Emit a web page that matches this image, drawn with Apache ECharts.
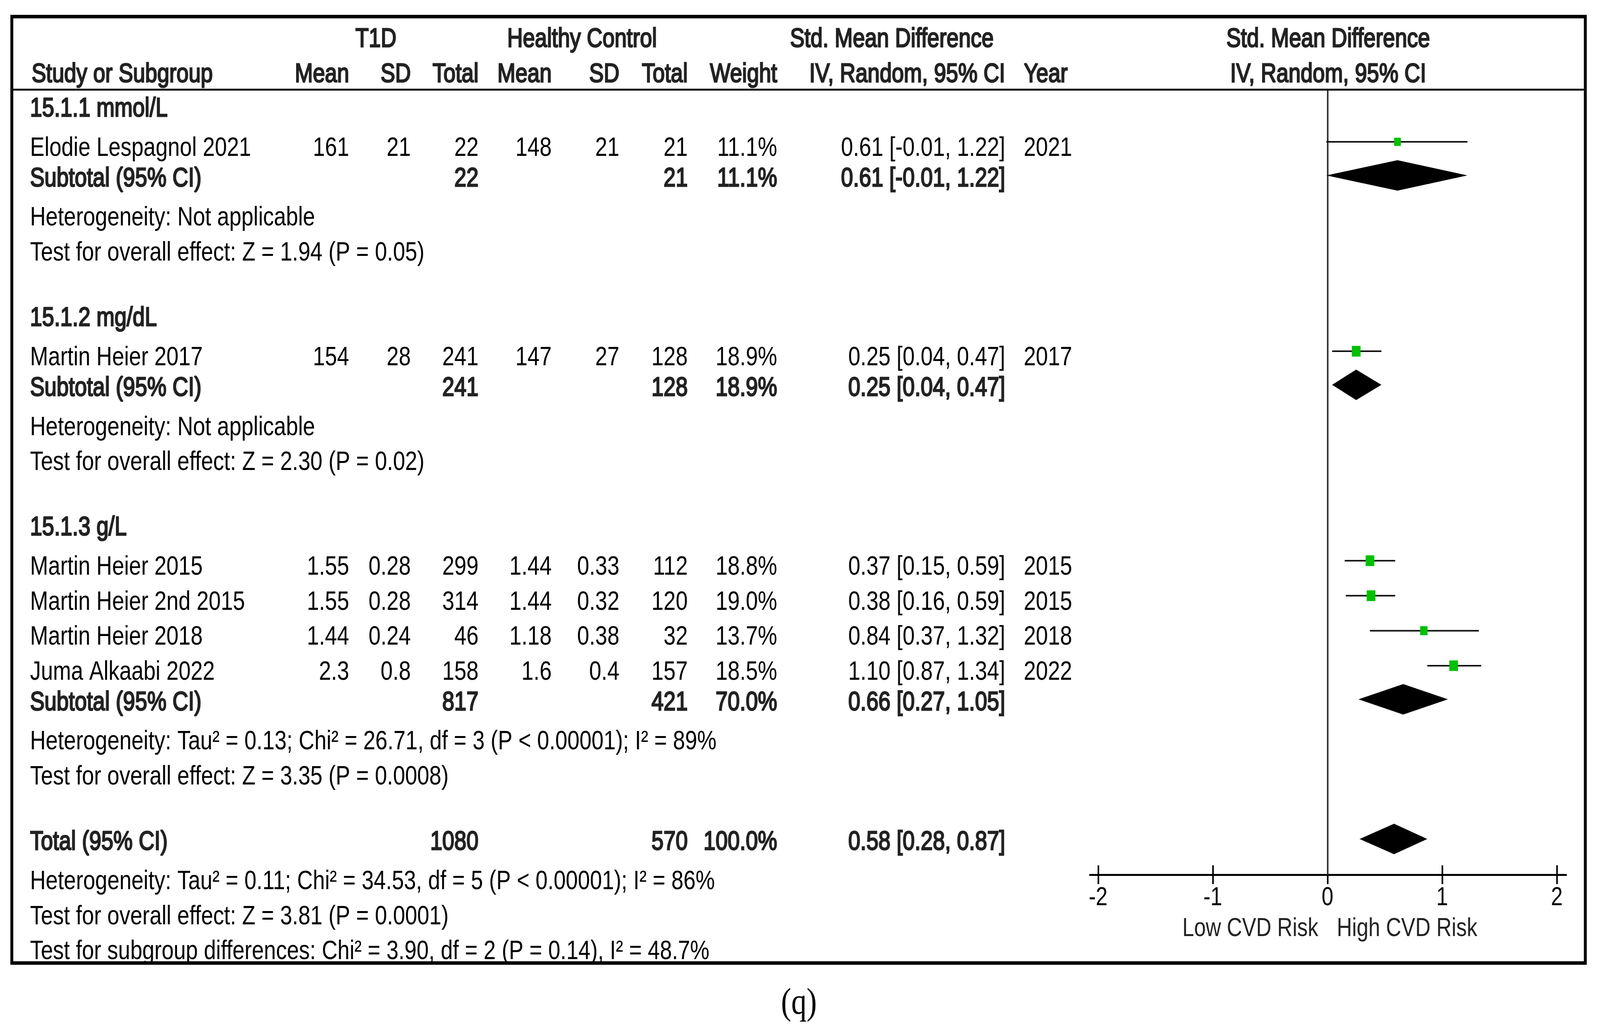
<!DOCTYPE html>
<html>
<head>
<meta charset="utf-8">
<script src="https://cdn.jsdelivr.net/npm/echarts@6/dist/echarts.min.js"></script>
<style>
html,body{margin:0;padding:0;background:#fff;overflow:hidden;width:100%;height:100%;}
#c{position:absolute;left:0;top:0;width:5009px;height:2639px;transform-origin:0 0;}
</style>
</head>
<body>
<div id="c"></div>
<script>
// ---------------- DATA ----------------
const spanHeaders   = ['T1D', 'Healthy Control', 'Std. Mean Difference', 'Std. Mean Difference'];
const columnHeaders = ['Study or Subgroup', 'Mean', 'SD', 'Total', 'Mean', 'SD', 'Total', 'Weight', 'IV, Random, 95% CI', 'Year', 'IV, Random, 95% CI'];

const groupLabels   = ['15.1.1 mmol/L', '15.1.2 mg/dL', '15.1.3 g/L'];
const groupT1dTotal = [22, 241, 817];
const groupHcTotal  = [21, 128, 421];
const groupWeight   = [11.1, 18.9, 70.0];
const groupSMD      = [0.61, 0.25, 0.66];
const groupLo       = [-0.01, 0.04, 0.27];
const groupHi       = [1.22, 0.47, 1.05];
const groupHet      = ['Heterogeneity: Not applicable',
                       'Heterogeneity: Not applicable',
                       'Heterogeneity: Tau² = 0.13; Chi² = 26.71, df = 3 (P < 0.00001); I² = 89%'];
const groupTest     = ['Test for overall effect: Z = 1.94 (P = 0.05)',
                       'Test for overall effect: Z = 2.30 (P = 0.02)',
                       'Test for overall effect: Z = 3.35 (P = 0.0008)'];

const studyNames  = ['Elodie Lespagnol 2021', 'Martin Heier 2017', 'Martin Heier 2015', 'Martin Heier 2nd 2015', 'Martin Heier 2018', 'Juma Alkaabi 2022'];
const studyGroup  = [0, 1, 2, 2, 2, 2];
const t1dMean     = ['161', '154', '1.55', '1.55', '1.44', '2.3'];
const t1dSD       = ['21', '28', '0.28', '0.28', '0.24', '0.8'];
const t1dTotal    = [22, 241, 299, 314, 46, 158];
const hcMean      = ['148', '147', '1.44', '1.44', '1.18', '1.6'];
const hcSD        = ['21', '27', '0.33', '0.32', '0.38', '0.4'];
const hcTotal     = [21, 128, 112, 120, 32, 157];
const studyWeight = [11.1, 18.9, 18.8, 19.0, 13.7, 18.5];
const studySMD    = [0.61, 0.25, 0.37, 0.38, 0.84, 1.10];
const studyLo     = [-0.01, 0.04, 0.15, 0.16, 0.37, 0.87];
const studyHi     = [1.22, 0.47, 0.59, 0.59, 1.32, 1.34];
const studyYear   = [2021, 2017, 2015, 2015, 2018, 2022];

const totalLabel    = 'Total (95% CI)';
const subtotalLabel = 'Subtotal (95% CI)';
const totalT1d    = [1080];
const totalHc     = [570];
const totalWeight = [100.0];
const totalSMD    = [0.58];
const totalLo     = [0.28];
const totalHi     = [0.87];
const totalNotes  = ['Heterogeneity: Tau² = 0.11; Chi² = 34.53, df = 5 (P < 0.00001); I² = 86%',
                     'Test for overall effect: Z = 3.81 (P = 0.0001)',
                     'Test for subgroup differences: Chi² = 3.90, df = 2 (P = 0.14), I² = 48.7%'];

const axisTicks    = [-2, -1, 0, 1, 2];
const favourLabels = ['Low CVD Risk', 'High CVD Risk'];
const panelLabel   = '(q)';

// ---------------- LAYOUT / STYLE ----------------
const W = 5009, H = 2639;
const SANS = "'Liberation Sans', Arial, sans-serif";
const SERIF = "'Liberation Serif', 'Times New Roman', serif";
const FS = 68;
const BOLD_COLOR = '#222';
const LAYOUT = {
  header1Y: 95, header2Y: 185, firstGroupY: 273.5,
  gGroupToStudy: 100.5, gStudy: 89.6, gStudyToSub: 78, gSubToHet: 100.7, gHetToTest: 89.5, gTestToNext: 167.4,
  textLeft: 94, headerLeft: 99,
  rT1dMean: 1093, rT1dSD: 1286, rT1dTotal: 1498, rHcMean: 1727, rHcSD: 1939, rHcTotal: 2153, rWeight: 2433, rCI: 3147,
  yearLeft: 3205,
  spanCenters: [1177, 1822, 2792, 4158],
  forestHeaderX: 4158,
  frame: {x1: 37, y1: 42.5, x2: 4963, y2: 2465, w: 9},
  headerLineY: 229.5,
  plotLeft: 3412, plotRight: 4903, plotTop: 231, axisY: 2239,
  xMin: -2.072, xMax: 2.081,
  studyMarkerDy: -11, diamondDy: -3, diamondHalf: 39,
  favourY: 2378, favourGap: 29,
  panelX: 2501, panelY: 2556,
  sansDy: 6, serifDy: 14
};
const SQ_K = 6.3;

const f2 = v => v.toFixed(2);
const ciText = (m, lo, hi) => `${f2(m)} [${f2(lo)}, ${f2(hi)}]`;
const wText = w => w.toFixed(1) + '%';

// ---------------- BUILD TABLE CELLS ----------------
const cells = [];
function addCell(x, y, text, align, bold, extra) {
  cells.push(Object.assign({x: x, y: y, text: String(text), align: align, bold: !!bold}, extra || {}));
}
const L = LAYOUT;
spanHeaders.forEach((t, i) => addCell(L.spanCenters[i], L.header1Y, t, 'center', true));
const headerX = [L.headerLeft, L.rT1dMean, L.rT1dSD, L.rT1dTotal, L.rHcMean, L.rHcSD, L.rHcTotal, L.rWeight, L.rCI, L.yearLeft, L.forestHeaderX];
const headerAlign = ['left', 'right', 'right', 'right', 'right', 'right', 'right', 'right', 'right', 'left', 'center'];
columnHeaders.forEach((t, i) => addCell(headerX[i], L.header2Y, t, headerAlign[i], true));

const studyY = [], subY = [];
let y = L.firstGroupY;
groupLabels.forEach((g, gi) => {
  if (gi > 0) y += L.gTestToNext;
  addCell(L.textLeft, y, g, 'left', true);
  y += L.gGroupToStudy;
  let first = true;
  studyNames.forEach((name, si) => {
    if (studyGroup[si] !== gi) return;
    if (!first) y += L.gStudy;
    first = false;
    studyY[si] = y;
    addCell(L.textLeft, y, name, 'left', false);
    addCell(L.rT1dMean, y, t1dMean[si], 'right');
    addCell(L.rT1dSD, y, t1dSD[si], 'right');
    addCell(L.rT1dTotal, y, t1dTotal[si], 'right');
    addCell(L.rHcMean, y, hcMean[si], 'right');
    addCell(L.rHcSD, y, hcSD[si], 'right');
    addCell(L.rHcTotal, y, hcTotal[si], 'right');
    addCell(L.rWeight, y, wText(studyWeight[si]), 'right');
    addCell(L.rCI, y, ciText(studySMD[si], studyLo[si], studyHi[si]), 'right');
    addCell(L.yearLeft, y, studyYear[si], 'left');
  });
  y += L.gStudyToSub;
  subY[gi] = y;
  addCell(L.textLeft, y, subtotalLabel, 'left', true);
  addCell(L.rT1dTotal, y, groupT1dTotal[gi], 'right', true);
  addCell(L.rHcTotal, y, groupHcTotal[gi], 'right', true);
  addCell(L.rWeight, y, wText(groupWeight[gi]), 'right', true);
  addCell(L.rCI, y, ciText(groupSMD[gi], groupLo[gi], groupHi[gi]), 'right', true);
  y += L.gSubToHet;
  addCell(L.textLeft, y, groupHet[gi], 'left');
  y += L.gHetToTest;
  addCell(L.textLeft, y, groupTest[gi], 'left');
});
y += L.gTestToNext;
const totalY = y;
addCell(L.textLeft, y, totalLabel, 'left', true);
addCell(L.rT1dTotal, y, totalT1d[0], 'right', true);
addCell(L.rHcTotal, y, totalHc[0], 'right', true);
addCell(L.rWeight, y, wText(totalWeight[0]), 'right', true);
addCell(L.rCI, y, ciText(totalSMD[0], totalLo[0], totalHi[0]), 'right', true);
y += L.gSubToHet;
totalNotes.forEach((t, i) => {
  if (i > 0) y += L.gHetToTest;
  addCell(L.textLeft, y, t, 'left');
});
addCell(L.panelX, L.panelY, panelLabel, 'center', false, {serif: true});

// ---------------- FOREST DATA ----------------
const studyMarks = studyNames.map((_, i) => [studyLo[i], studyHi[i], studySMD[i], studyY[i] + L.studyMarkerDy, studyWeight[i]]);
const diamondMarks = groupLabels.map((_, i) => [groupLo[i], groupHi[i], groupSMD[i], subY[i] + L.diamondDy])
  .concat([[totalLo[0], totalHi[0], totalSMD[0], totalY + L.diamondDy]]);
const favourMarks = [[0, L.favourY, -1], [0, L.favourY, 1]];

// ---------------- CHART ----------------
const el = document.getElementById('c');
// fit the fixed 5009x2639 drawing to the actual viewport (identity when the viewport is 5009x2639)
const vw = window.innerWidth || W, vh = window.innerHeight || H;
const sx = vw / W, sy = vh / H;
if (Math.abs(sx - 1) > 1e-3 || Math.abs(sy - 1) > 1e-3) {
  el.style.transform = 'scale(' + sx + ',' + sy + ')';
}
const chart = echarts.init(el, null, {renderer: 'canvas', width: W, height: H});

const option = {
  animation: false,
  backgroundColor: '#fff',
  grid: [
    {left: 0, top: 0, width: W, height: H, outerBoundsMode: 'none', containLabel: false, show: false},
    {left: L.plotLeft, top: L.plotTop, width: L.plotRight - L.plotLeft, height: L.axisY - L.plotTop,
     outerBoundsMode: 'none', containLabel: false, show: false}
  ],
  xAxis: [
    {gridIndex: 0, type: 'value', min: 0, max: W, show: false},
    {gridIndex: 1, type: 'value', min: L.xMin, max: L.xMax, position: 'bottom',
     axisLine: {show: true, onZero: false, lineStyle: {color: '#000', width: 5}},
     axisTick: {show: true, length: 24, customValues: axisTicks, lineStyle: {color: '#000', width: 5}},
     axisLabel: {show: true, customValues: axisTicks, margin: 27, color: '#000', fontSize: 66, fontFamily: SANS,
                 formatter: v => String(v)},
     splitLine: {show: false}, minorTick: {show: false}},
    {gridIndex: 1, type: 'value', min: L.xMin, max: L.xMax, position: 'bottom',
     axisLine: {show: false, onZero: false},
     axisTick: {show: true, inside: true, length: 24, customValues: axisTicks, lineStyle: {color: '#000', width: 5}},
     axisLabel: {show: false}, splitLine: {show: false}}
  ],
  yAxis: [
    {gridIndex: 0, type: 'value', min: 0, max: H, inverse: true, show: false},
    {gridIndex: 1, type: 'value', min: L.plotTop, max: L.axisY, inverse: true, show: false,
     axisLine: {onZero: false}, splitLine: {show: false}}
  ],
  graphic: [
    {type: 'rect', z: 100, silent: true,
     shape: {x: L.frame.x1, y: L.frame.y1, width: L.frame.x2 - L.frame.x1, height: L.frame.y2 - L.frame.y1},
     style: {fill: 'none', stroke: '#000', lineWidth: L.frame.w}},
    {type: 'line', z: 100, silent: true,
     shape: {x1: L.frame.x1, y1: L.headerLineY, x2: L.frame.x2, y2: L.headerLineY},
     style: {stroke: '#111', lineWidth: 5}}
  ],
  series: [
    {
      type: 'custom', name: 'table', xAxisIndex: 0, yAxisIndex: 0, clip: false, silent: true,
      data: cells.map(c => [c.x, c.y]),
      encode: {x: 0, y: 1},
      renderItem: function (params, api) {
        const c = cells[params.dataIndex];
        const dy = c.serif ? L.serifDy : L.sansDy;
        const p = api.coord([api.value(0), api.value(1) + dy]);
        const style = {
          text: c.text, align: c.align, verticalAlign: 'middle',
          font: c.serif ? ('96px ' + SERIF) : (FS + 'px ' + SANS),
          fill: c.bold ? BOLD_COLOR : '#000'
        };
        if (c.bold) { style.stroke = BOLD_COLOR; style.lineWidth = 3; }
        return {type: 'text', x: p[0], y: p[1], style: style};
      }
    },
    {
      type: 'line', name: 'null', xAxisIndex: 1, yAxisIndex: 1, data: [], silent: true,
      markLine: {silent: true, symbol: ['none', 'none'], label: {show: false},
                 lineStyle: {color: '#333', width: 5, type: 'solid'},
                 data: [{xAxis: 0}]}
    },
    {
      type: 'custom', name: 'studies', xAxisIndex: 1, yAxisIndex: 1, clip: false, silent: true, z: 5,
      data: studyMarks,
      encode: {x: [0, 1, 2], y: 3},
      renderItem: function (params, api) {
        const yv = api.value(3);
        const a = api.coord([api.value(0), yv]);
        const b = api.coord([api.value(1), yv]);
        const c = api.coord([api.value(2), yv]);
        const s = SQ_K * Math.sqrt(api.value(4));
        return {type: 'group', children: [
          {type: 'line', shape: {x1: a[0], y1: a[1], x2: b[0], y2: b[1]}, style: {stroke: '#111', lineWidth: 4}},
          {type: 'rect', shape: {x: c[0] - s / 2, y: c[1] - s / 2, width: s, height: s}, style: {fill: '#00c000'}}
        ]};
      }
    },
    {
      type: 'custom', name: 'diamonds', xAxisIndex: 1, yAxisIndex: 1, clip: false, silent: true, z: 5,
      data: diamondMarks,
      encode: {x: [0, 1, 2], y: 3},
      renderItem: function (params, api) {
        const yv = api.value(3);
        const a = api.coord([api.value(0), yv]);
        const b = api.coord([api.value(1), yv]);
        const c = api.coord([api.value(2), yv]);
        const h = L.diamondHalf;
        return {type: 'polygon', shape: {points: [[a[0], a[1]], [c[0], c[1] - h], [b[0], b[1]], [c[0], c[1] + h]]},
                style: {fill: '#000'}};
      }
    },
    {
      type: 'custom', name: 'favours', xAxisIndex: 1, yAxisIndex: 1, clip: false, silent: true,
      data: favourMarks,
      encode: {x: 0, y: 1},
      renderItem: function (params, api) {
        const side = api.value(2);
        const p = api.coord([api.value(0), api.value(1)]);
        return {type: 'text', x: p[0] + side * L.favourGap, y: p[1],
                style: {text: favourLabels[params.dataIndex], align: side < 0 ? 'right' : 'left', verticalAlign: 'middle',
                        font: '66px ' + SANS, fill: '#222'}};
      }
    }
  ]
};
chart.setOption(option);
</script>
</body>
</html>
